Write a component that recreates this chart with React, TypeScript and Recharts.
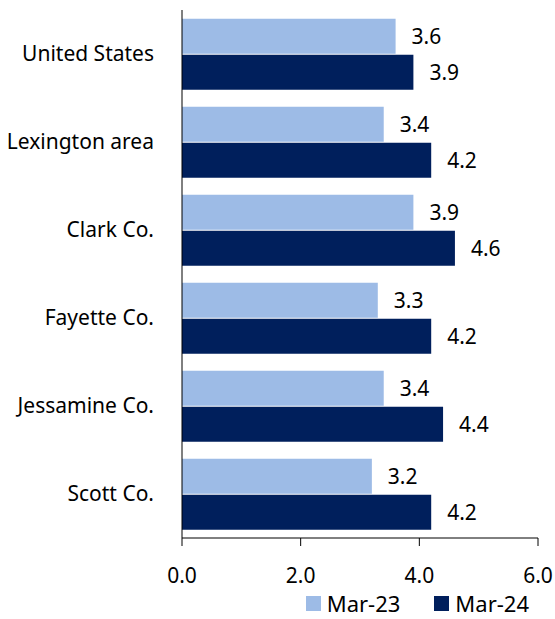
import React from "react"
import { BarChart, Bar, XAxis, YAxis, Legend, LabelList } from "recharts"

const categories = ["United States", "Lexington area", "Clark Co.", "Fayette Co.", "Jessamine Co.", "Scott Co."]
const mar23 = [3.6, 3.4, 3.9, 3.3, 3.4, 3.2]
const mar24 = [3.9, 4.2, 4.6, 4.2, 4.4, 4.2]
const xTicks = [0, 2, 4, 6]

const data = categories.map((name, i) => ({ name, mar23: mar23[i], mar24: mar24[i] }))

const font = "Noto Sans, sans-serif"
const fs = 21

// legend drawn by hand so the spacing matches the original
const renderLegend = (props: any) => {
  const items = props.payload || []
  return (
    <div style={{ display: "flex", justifyContent: "flex-end", paddingRight: 26, paddingTop: 2 }}>
      {items.map((it: any, i: number) => (
        <div key={i} style={{ display: "flex", alignItems: "center", marginLeft: i ? 34 : 0 }}>
          <span style={{ width: 15, height: 15, background: it.color, marginRight: 6, display: "inline-block" }} />
          <span style={{ color: "#000", fontSize: 22, lineHeight: "27px" }}>{it.value}</span>
        </div>
      ))}
    </div>
  )
}

export default function App() {
  return (
    <div style={{ position: "absolute", left: 0, top: 0, fontFamily: font }}>
      <BarChart
        width={555}
        height={619}
        data={data}
        layout="vertical"
        margin={{ top: 10, right: 17, bottom: 0, left: 0 }}
        barCategoryGap="10%"
        barGap={1}
      >
        <XAxis
          type="number"
          domain={[0, 6]}
          ticks={xTicks}
          tickFormatter={(v: number) => v.toFixed(1)}
          stroke="#000"
          tickSize={8}
          tickMargin={22}
          height={50}
          tick={{ fill: "#000", fontSize: fs, fontFamily: font }}
        />
        <YAxis
          type="category"
          dataKey="name"
          width={182}
          stroke="#000"
          tickLine={false}
          tickMargin={22}
          tick={{ fill: "#000", fontSize: fs, fontFamily: font }}
        />
        <Legend verticalAlign="bottom" height={31} content={renderLegend} wrapperStyle={{ bottom: 0, left: 0, width: 555 }} />
        <Bar dataKey="mar23" name="Mar-23" fill="#9DBBE6" isAnimationActive={false}>
          <LabelList dataKey="mar23" position="right" offset={16} formatter={(v: number) => v.toFixed(1)} style={{ fill: "#000", fontSize: fs, fontFamily: font }} />
        </Bar>
        <Bar dataKey="mar24" name="Mar-24" fill="#001F5C" isAnimationActive={false}>
          <LabelList dataKey="mar24" position="right" offset={16} formatter={(v: number) => v.toFixed(1)} style={{ fill: "#000", fontSize: fs, fontFamily: font }} />
        </Bar>
      </BarChart>
    </div>
  )
}
